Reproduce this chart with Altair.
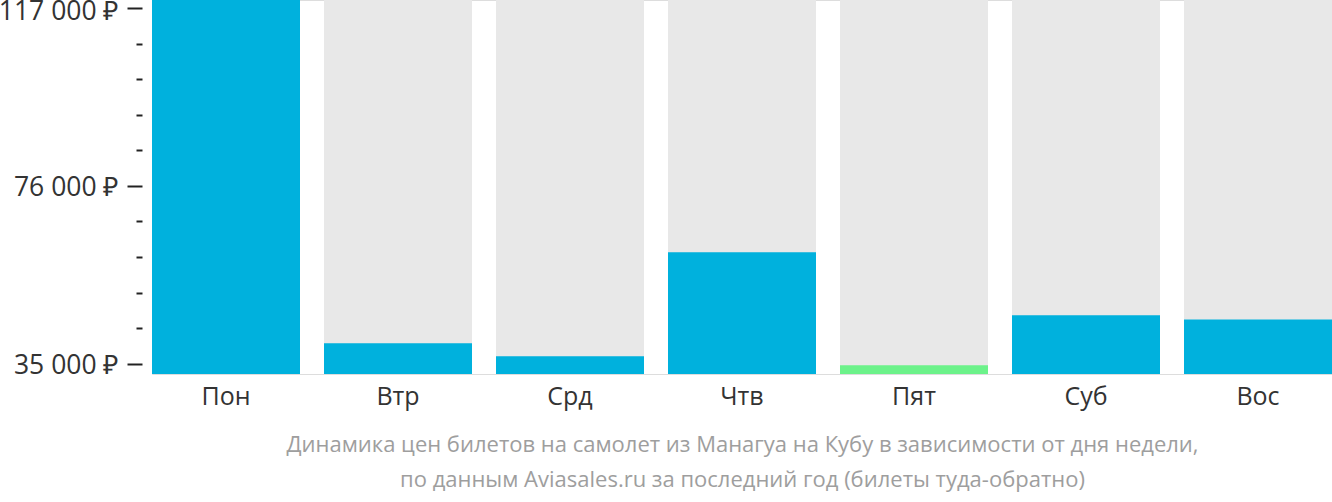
import altair as alt
import pandas as pd

days = ["Пон", "Втр", "Срд", "Чтв", "Пят", "Суб", "Вос"]
prices = [118900, 39700, 36700, 60700, 34600, 46150, 45200]
kinds = ["normal", "normal", "normal", "normal", "min", "normal", "normal"]

y_min = 32600
y_max = 118900
major_ticks = [35000, 76000, 117000]
all_ticks = [35000 + 8200 * i for i in range(11)]

title_lines = [
    "Динамика цен билетов на самолет из Манагуа на Кубу в зависимости от дня недели,",
    "по данным Aviasales.ru за последний год (билеты туда-обратно)",
]

df = pd.DataFrame({"day": days, "price": prices, "kind": kinds, "top": [y_max] * len(days)})

FONT = "Open Sans"
major_test = "indexof([35000,76000,117000], datum.value) >= 0"

x_enc = alt.X(
    "day:N",
    sort=days,
    scale=alt.Scale(paddingInner=24 / 172, paddingOuter=0),
    axis=alt.Axis(
        title=title_lines,
        titleFontSize=22,
        titleColor="#9e9e9e",
        titleFontWeight="normal",
        titleFont=FONT,
        titlePadding=25,
        titleLineHeight=35,
        labelAngle=0,
        labelFontSize=25,
        labelColor="#333333",
        labelFont=FONT,
        labelPadding=10,
        ticks=False,
        domain=False,
    ),
)

y_scale = alt.Scale(domain=[y_min, y_max], zero=False, nice=False)

bg = alt.Chart(df).mark_bar(color="#e8e8e8", clip=True).encode(
    x=x_enc,
    y=alt.Y(
        "top:Q",
        scale=y_scale,
        axis=alt.Axis(
            title=None,
            values=all_ticks,
            tickCount=50,
            labelExpr=major_test + " ? floor(datum.value/1000) + ' 000 ₽' : ''",
            labelFontSize=26.5,
            labelColor="#333333",
            labelFont=FONT,
            labelPadding=9,
            labelOffset={"condition": {"test": "datum.value == 117000", "value": 3}, "value": 1.5},
            labelOverlap=False,
            labelBound=False,
            labelFlush=False,
            tickSize={"condition": {"test": major_test, "value": 15}, "value": 6},
            tickWidth=2,
            tickColor="#222222",
            domain=False,
            grid=False,
            offset=10,
        ),
    ),
    y2=alt.datum(y_min),
)

fg = alt.Chart(df).mark_bar(clip=True).encode(
    x=alt.X("day:N", sort=days),
    y=alt.Y("price:Q", scale=y_scale),
    y2=alt.datum(y_min),
    color=alt.Color(
        "kind:N",
        scale=alt.Scale(domain=["normal", "min"], range=["#00b1dd", "#6cf28a"]),
        legend=None,
    ),
)

chart = (
    alt.layer(bg, fg)
    .properties(
        width=1180,
        height=374,
        autosize=alt.AutoSizeParams(type="none"),
        padding={"left": 152, "top": 0, "right": 0, "bottom": 128},
    )
    .configure_view(stroke=None)
    .configure(font=FONT)
)

chart.save("out.html", embed_options={"renderer": "svg", "actions": False})
